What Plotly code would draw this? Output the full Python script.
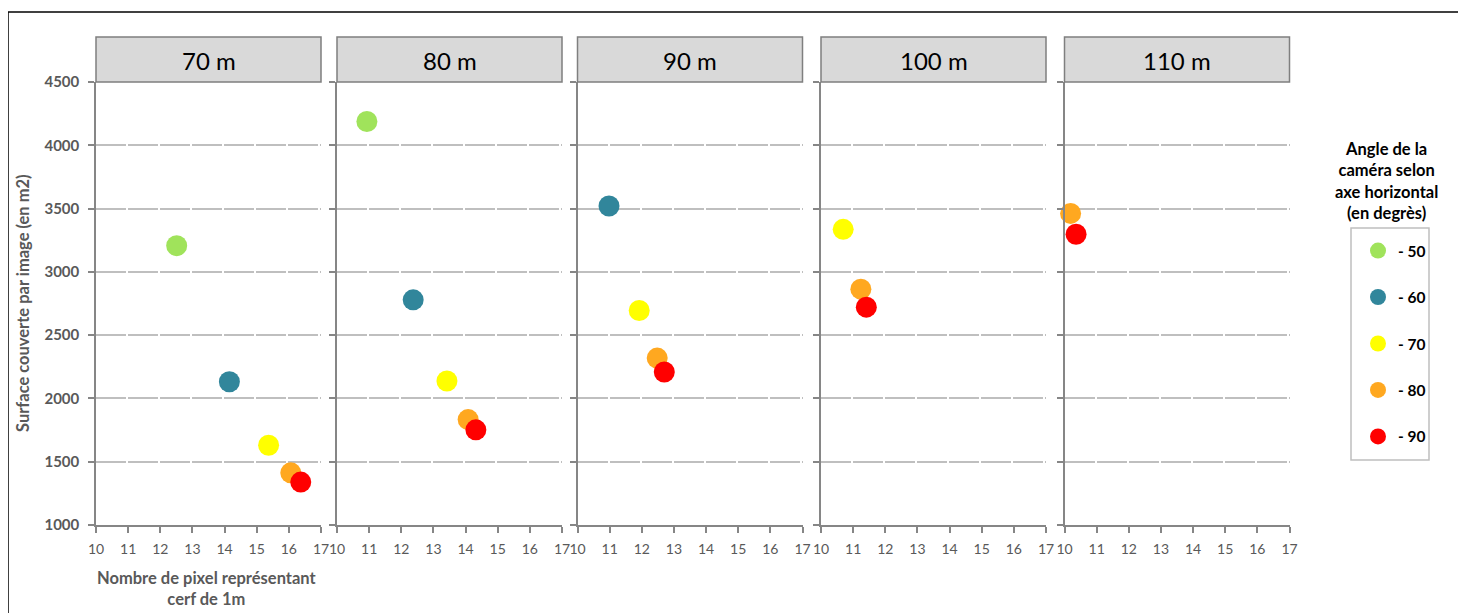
import plotly.graph_objects as go

# ---------------- data ----------------
altitudes = ["70 m", "80 m", "90 m", "100 m", "110 m"]
angle_labels = ["- 50", "- 60", "- 70", "- 80", "- 90"]
angle_colors = ["#A0E35B", "#31869B", "#FFFF00", "#FFA820", "#FF0000"]

# pixel count (x) per altitude, for each camera angle
pixels_50 = [12.51, 10.93, None, None, None]
pixels_60 = [14.15, 12.37, 10.98, None, None]
pixels_70 = [15.37, 13.42, 11.92, 10.69, None]
pixels_80 = [16.06, 14.08, 12.48, 11.24, 10.19]
pixels_90 = [16.37, 14.32, 12.70, 11.41, 10.36]

# surface covered per image (y) per altitude, for each camera angle
surface_50 = [3207, 4188, None, None, None]
surface_60 = [2132, 2779, 3520, None, None]
surface_70 = [1630, 2138, 2695, 3336, None]
surface_80 = [1412, 1833, 2319, 2863, 3462]
surface_90 = [1339, 1752, 2209, 2721, 3297]

pixels_all = [pixels_50, pixels_60, pixels_70, pixels_80, pixels_90]
surface_all = [surface_50, surface_60, surface_70, surface_80, surface_90]

# ---------------- layout helpers ----------------
OFF = 8                      # page body margin
W, H = 1466 - OFF, 613 - OFF
FONT = "Lato"
GREY_TXT = "#595959"
AXIS_GREY = "#868686"


def fx(p):
    return (p - OFF) / W


def fy(p):
    return 1 - (p - OFF) / H


panel_left = [96, 337, 577.5, 821, 1064.5]
panel_w = 225
plot_top, plot_bottom = 82, 525
head_top = 37

fig = go.Figure()

for a, (lab, col) in enumerate(zip(angle_labels, angle_colors)):
    first = True
    for p in range(len(altitudes)):
        xv = pixels_all[a][p]
        yv = surface_all[a][p]
        if xv is None:
            continue
        suffix = "" if p == 0 else str(p + 1)
        fig.add_trace(go.Scatter(
            x=[xv], y=[yv], mode="markers", name=lab,
            legendgroup=lab, showlegend=first,
            marker=dict(color=col, size=21, line=dict(width=0)),
            xaxis="x" + suffix, yaxis="y" + suffix,
            cliponaxis=False,
        ))
        first = False

layout = dict(
    width=W, height=H,
    margin=dict(l=0, r=0, t=0, b=0, pad=0, autoexpand=False),
    paper_bgcolor="white", plot_bgcolor="white",
    font=dict(family=FONT, color=GREY_TXT),
    showlegend=True,
    legend=dict(
        x=fx(1358), y=fy(234), xanchor="left", yanchor="top",
        bgcolor="rgba(0,0,0,0)", borderwidth=0,
        font=dict(family=FONT, size=15.5, color="black", weight="bold"),
        tracegroupgap=23.3, itemsizing="trace",
    ),
)

shapes = []
annotations = []
for p, alt in enumerate(altitudes):
    l = panel_left[p]
    suffix = "" if p == 0 else str(p + 1)
    layout["xaxis" + suffix] = dict(
        domain=[fx(l), fx(l + panel_w)], range=[10, 17], tick0=10, dtick=1,
        anchor="y" + suffix, showgrid=False, zeroline=False, automargin=False,
        showline=True, linecolor=AXIS_GREY, linewidth=1.5,
        ticks="outside", ticklen=6, tickcolor=AXIS_GREY, tickwidth=1.5,
        ticklabelstandoff=4,
        tickfont=dict(family=FONT, size=14, color=GREY_TXT),
    )
    layout["yaxis" + suffix] = dict(
        domain=[fy(plot_bottom), fy(plot_top)], range=[1000, 4500],
        tick0=1000, dtick=500, anchor="x" + suffix, automargin=False,
        showgrid=True, gridcolor="#BFBFBF", gridwidth=1.5, griddash="30px,2px",
        zeroline=False, showline=True, linecolor=AXIS_GREY, linewidth=1.5,
        ticks="outside", ticklen=6, tickcolor=AXIS_GREY, tickwidth=1.5,
        ticklabelstandoff=6,
        showticklabels=(p == 0),
        tickfont=dict(family=FONT, size=15, color=GREY_TXT, weight="bold"),
    )
    shapes.append(dict(
        type="rect", xref="paper", yref="paper",
        x0=fx(l), x1=fx(l + panel_w), y0=fy(plot_top), y1=fy(head_top),
        fillcolor="#D9D9D9", line=dict(color="#7F7F7F", width=1.5), layer="above",
    ))
    annotations.append(dict(
        xref="paper", yref="paper", x=fx(l + panel_w / 2), y=fy((head_top + plot_top) / 2 + 1),
        text=alt, showarrow=False, xanchor="center", yanchor="middle",
        font=dict(family=FONT, size=24, color="black"),
    ))

# legend box
shapes.append(dict(
    type="rect", xref="paper", yref="paper",
    x0=fx(1351), x1=fx(1429), y0=fy(460), y1=fy(228),
    fillcolor="rgba(0,0,0,0)", line=dict(color="#BFBFBF", width=1.5),
))
# outer black frame (top and left edges)
shapes.append(dict(type="line", xref="paper", yref="paper",
                   x0=fx(8), x1=1, y0=fy(12), y1=fy(12),
                   line=dict(color="black", width=1.5)))
shapes.append(dict(type="line", xref="paper", yref="paper",
                   x0=fx(8), x1=fx(8), y0=fy(12), y1=0,
                   line=dict(color="black", width=1.5)))

annotations.append(dict(
    xref="paper", yref="paper", x=fx(23), y=fy(303),
    text="Surface couverte par image (en m2)", textangle=-90, showarrow=False,
    xanchor="center", yanchor="middle",
    font=dict(family=FONT, size=16.5, color=GREY_TXT, weight="bold"),
))
annotations.append(dict(
    xref="paper", yref="paper", x=fx(207), y=fy(588),
    text="Nombre de pixel représentant<br>cerf de 1m", showarrow=False,
    xanchor="center", yanchor="middle",
    font=dict(family=FONT, size=16.5, color=GREY_TXT, weight="bold"),
))
annotations.append(dict(
    xref="paper", yref="paper", x=fx(1386), y=fy(181),
    text="Angle de la<br>caméra selon<br>axe horizontal<br>(en degrès)", showarrow=False,
    xanchor="center", yanchor="middle",
    font=dict(family=FONT, size=16.5, color="black", weight="bold"),
))

layout["shapes"] = shapes
layout["annotations"] = annotations
fig.update_layout(**layout)

fig.write_html("out.html")
